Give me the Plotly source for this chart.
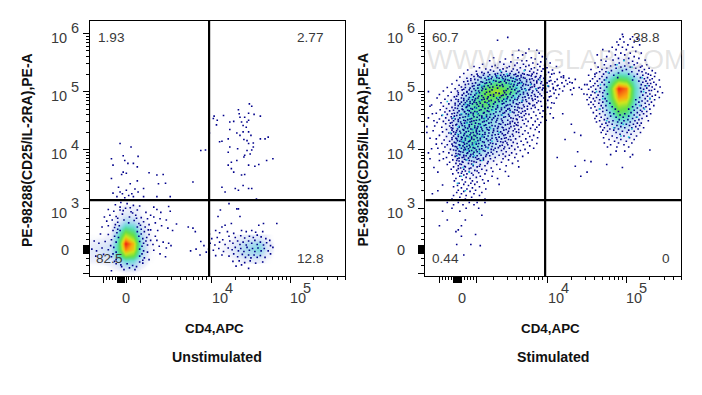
import plotly.graph_objects as go

# All positions are in display decades of the biexponential axes (10^4 -> 4, 10^5 -> 5 ...)
X_RANGE = [2.44, 5.70]
Y_RANGE = [1.84, 6.21]
GATE_X = 3.966
GATE_Y = 3.14

# ---------- density tables (estimated from the colours, 0 = empty, 10 = red) ----------
un_blob_x = [2.5, 2.6, 2.7, 2.8, 2.9, 3.0, 3.1, 3.2, 3.3]
un_blob_y = [1.9, 2.0, 2.1, 2.2, 2.3, 2.4, 2.5, 2.6, 2.7, 2.8, 2.9, 3.0]
un_blob_z = [
    [0, 0, 0, 0, .3, .3, 0, 0, 0],
    [0, 0, .3, .8, 1.8, 1.8, .5, 0, 0],
    [.5, .8, .9, 1.8, 3.4, 3.2, 1.2, .2, 0],
    [.7, 1.1, 1.4, 3.2, 6.2, 5.6, 2, .3, 0],
    [.8, 1.2, 1.5, 4, 8.6, 7.4, 2.4, .4, 0],
    [.6, .9, 1.2, 3.8, 9.9, 7.8, 2.4, .4, 0],
    [.2, .3, .6, 3.4, 7.6, 6, 2, .4, 0],
    [0, .1, .3, 2.4, 5.5, 4.5, 1.6, .3, 0],
    [0, 0, .2, 1.4, 3.4, 3, 1.1, .2, 0],
    [0, 0, .1, .7, 2, 1.7, .6, .1, 0],
    [0, 0, 0, .3, 1, .9, .3, 0, 0],
    [0, 0, 0, .2, .5, .5, .2, 0, 0],
]
un_low_x = [4.0, 4.1, 4.2, 4.3, 4.4, 4.5, 4.6, 4.7, 4.8]
un_low_y = [2.1, 2.2, 2.3, 2.4, 2.5]
un_low_z = [
    [0, 0, 0, .2, .5, .7, .6, .2, 0],
    [0, .1, .3, .7, 1.5, 1.9, 2, .7, 0],
    [0, .2, .5, 1.1, 1.9, 2.4, 3, 1.2, .1],
    [0, .2, .4, .9, 1.7, 2.1, 2.6, 1, .1],
    [0, 0, .1, .3, .7, .9, .9, .4, 0],
]
st_cloud_x = [2.6, 2.75, 2.9, 3.05, 3.2, 3.35, 3.5, 3.65, 3.8, 3.95]
st_cloud_y = [3.6, 3.8, 4.0, 4.2, 4.4, 4.6, 4.8, 5.0, 5.2, 5.4]
st_cloud_z = [
    [0, 0, .2, .4, .1, 0, 0, 0, 0, 0],
    [0, 0, 1, 1.4, .6, .2, 0, 0, 0, 0],
    [0, .4, 2.6, 3.4, 2.1, 1.2, .5, .1, 0, 0],
    [0, .6, 3, 3.8, 2.6, 1.7, .9, .2, 0, 0],
    [0, .7, 2.6, 3.6, 2.9, 2, 1.2, .4, 0, 0],
    [0, .6, 2.4, 3.8, 3.4, 2.4, 1.5, .6, 0, 0],
    [0, .5, 2, 4, 5, 3.6, 2.4, 1.3, .4, 0],
    [0, .1, .8, 2.6, 5.4, 6.6, 4.8, 3, 1.2, .2],
    [0, 0, .3, 1.3, 3, 4, 3.6, 2.4, 1.2, .4],
    [0, 0, 0, .1, .3, .4, .5, .4, .2, 0],
]
st_right_x = [4.4, 4.5, 4.6, 4.7, 4.8, 4.9, 5.0, 5.1, 5.2, 5.3, 5.4, 5.5]
st_right_y = [4.0, 4.15, 4.3, 4.45, 4.6, 4.75, 4.9, 5.05, 5.2, 5.35, 5.5, 5.65]
st_right_z = [
    [0, 0, 0, 0, 0, 0, 0, 0, 0, 0, 0, 0],
    [0, 0, 0, 0, .1, .3, .3, .1, 0, 0, 0, 0],
    [0, 0, 0, .1, .6, 1.1, 1, .5, .1, 0, 0, 0],
    [0, 0, 0, .3, 1.4, 2.5, 2.3, 1.1, .2, 0, 0, 0],
    [0, 0, .1, .7, 2.5, 4.4, 4, 1.9, .6, .1, 0, 0],
    [0, 0, .2, 1.3, 3.7, 6.2, 5.8, 2.9, 1, .2, 0, 0],
    [0, 0, .4, 1.8, 4.7, 8.4, 8, 3.7, 1.4, .3, 0, 0],
    [0, 0, .4, 1.8, 5.1, 9.8, 8.8, 3.9, 1.6, .4, 0, 0],
    [0, 0, .2, 1.3, 3.7, 5.8, 5.4, 3.1, 1.1, .2, 0, 0],
    [0, 0, .1, .5, 1.5, 2.6, 2.4, 1.3, .4, 0, 0, 0],
    [0, 0, 0, .1, .4, .7, .7, .4, .1, 0, 0, 0],
    [0, 0, 0, 0, 0, .1, .1, 0, 0, 0, 0, 0],
]

# ---------- individual events ----------
un_upper_right = [(4.48,4.79),(4.51,4.75),(4.34,4.69),(4.35,4.62),(4.03,4.58),(4.15,4.59),(4.07,4.51),(4.06,4.43),(4.02,4.54),(4.23,4.48),(4.28,4.49),(4.36,4.56),(4.42,4.56),(4.47,4.63),(4.54,4.61),(4.62,4.58),(4.38,4.48),(4.45,4.48),(4.40,4.42),(4.47,4.51),(4.23,4.35),(4.32,4.29),(4.40,4.31),(4.47,4.31),(3.97,4.29),(4.13,4.15),(4.10,4.14),(4.21,4.19),(4.36,4.25),(4.45,4.16),(4.47,4.11),(4.53,4.12),(4.62,4.19),(4.68,4.19),(4.72,4.22),(4.53,4.05),(4.45,3.99),(4.42,3.91),(4.51,4.0),(4.23,4.05),(4.21,3.96),(4.41,3.88),(4.32,3.82),(4.47,3.74),(4.55,3.72),(4.6,3.75),(4.7,3.82),(4.78,3.85),(4.21,3.74),(4.25,3.79),(4.25,3.68),(4.38,3.57),(4.42,3.58),(4.13,3.36),(4.30,3.34),(4.34,3.31),(4.40,3.39),(4.47,3.34),(4.51,3.34),(4.17,3.28),(4.28,3.62),(4.44,4.39),(4.5,4.25),(4.41,4.18),(4.49,3.93),(4.33,4.02)]
un_lower_right = [(4.57,3.16),(4.22,3.08),(4.11,2.97),(4.32,2.99),(4.34,2.99),(4.08,2.86),(4.36,2.86),(4.17,2.71),(4.25,2.74),(4.13,2.68),(3.97,2.56),(4.83,2.74),(4.66,2.74),(4.6,2.71),(4.51,2.62),(4.38,2.62),(4.05,2.62),(4.1,2.58),(4.2,2.6),(4.28,2.57),(4.44,2.6),(4.56,2.59),(4.65,2.6),(4.0,2.48),(4.07,2.5),(4.14,2.46),(4.22,2.52),(4.3,2.5),(4.37,2.53),(4.42,2.49),(4.48,2.52),(4.53,2.5),(4.58,2.54),(4.63,2.51),(4.69,2.48),(4.74,2.45),(3.98,2.4),(4.04,2.37),(4.1,2.42),(4.17,2.38),(4.23,2.44),(4.27,2.4),(4.33,2.44),(4.36,2.38),(4.4,2.42),(4.44,2.37),(4.47,2.44),(4.51,2.4),(4.55,2.45),(4.58,2.38),(4.62,2.42),(4.66,2.37),(4.7,2.41),(4.75,2.36),(4.78,2.33),(3.96,2.3),(4.02,2.28),(4.09,2.31),(4.15,2.26),(4.21,2.32),(4.26,2.29),(4.3,2.33),(4.34,2.27),(4.37,2.31),(4.41,2.26),(4.45,2.33),(4.48,2.28),(4.52,2.31),(4.55,2.26),(4.59,2.32),(4.63,2.27),(4.67,2.31),(4.72,2.27),(4.75,2.22),(4.05,2.19),(4.13,2.2),(4.22,2.18),(4.28,2.22),(4.33,2.17),(4.39,2.21),(4.43,2.16),(4.47,2.2),(4.5,2.15),(4.54,2.2),(4.58,2.16),(4.62,2.19),(4.68,2.16),(4.27,2.09),(4.35,2.1),(4.42,2.07),(4.49,2.1),(4.56,2.06),(4.65,2.08),(4.31,2.01),(4.47,1.97),(4.38,2.03)]
un_upper_left = [(2.83,4.11),(2.97,4.05),(2.72,3.85),(2.87,3.9),(3.06,3.89),(2.89,3.82),(2.74,3.74),(2.93,3.77),(3.0,3.77),(3.05,3.71),(2.87,3.62),(2.91,3.6),(2.85,3.58),(2.72,3.51),(3.2,3.61),(3.3,3.57),(3.38,3.58),(3.32,3.42),(3.41,3.43),(3.76,3.45),(3.86,3.99),(2.96,3.42),(3.05,3.47),(3.13,3.34),(2.91,3.31),(2.83,3.28),(2.74,3.26),(2.98,3.25),(3.06,3.28),(3.13,3.2),(3.3,3.2),(3.47,3.2),(2.89,3.18),(3.0,3.2),(2.79,3.2),(2.86,3.25),(2.94,3.22),(2.81,3.36),(3.02,3.33),(3.92,4.0)]
un_blob_dots = [(2.77,3.06),(2.84,3.1),(2.92,3.08),(3.0,3.05),(3.08,3.04),(3.26,3.02),(3.45,3.03),(3.3,2.98),(2.68,2.98),(2.75,2.95),(2.83,2.97),(2.9,3.0),(2.97,2.94),(3.05,2.97),(3.16,2.93),(3.22,2.88),(3.35,2.93),(3.47,2.95),(2.63,2.85),(2.7,2.88),(2.78,2.86),(2.86,2.9),(2.95,2.85),(3.03,2.88),(3.1,2.84),(3.18,2.82),(3.26,2.85),(3.34,2.82),(3.42,2.8),(3.55,2.73),(3.7,2.68),(3.76,2.66),(3.79,2.6),(2.66,2.78),(2.73,2.8),(2.8,2.76),(2.88,2.8),(2.94,2.75),(3.01,2.79),(3.07,2.74),(3.13,2.77),(3.2,2.72),(3.28,2.75),(3.36,2.7),(3.44,2.66),(3.5,2.62),(2.6,2.68),(2.68,2.7),(2.76,2.67),(2.82,2.7),(3.05,2.68),(3.1,2.64),(3.15,2.68),(3.22,2.63),(3.31,2.62),(2.74,2.62),(2.79,2.58),(2.83,2.62),(3.05,2.6),(3.1,2.56),(3.14,2.6),(3.2,2.55),(3.28,2.52),(2.58,2.56),(2.68,2.55),(2.76,2.52),(2.81,2.5),(3.07,2.52),(3.12,2.48),(3.17,2.5),(3.22,2.45),(3.3,2.45),(3.38,2.42),(3.45,2.4),(2.5,2.44),(2.56,2.4),(2.64,2.43),(2.72,2.46),(2.78,2.42),(3.08,2.43),(3.13,2.4),(3.18,2.37),(3.25,2.38),(3.33,2.35),(3.42,2.32),(3.48,2.36),(3.86,2.43),(3.9,2.36),(3.8,2.3),(3.73,2.27),(3.85,2.2),(3.93,2.25),(2.47,2.3),(2.53,2.27),(2.6,2.32),(2.68,2.29),(2.75,2.33),(2.78,2.25),(3.08,2.3),(3.13,2.27),(3.18,2.25),(3.26,2.28),(3.34,2.22),(3.41,2.17),(3.2,2.12),(2.52,2.18),(2.62,2.21),(2.72,2.17),(2.78,2.12),(3.08,2.18),(3.14,2.15),(3.08,2.08),(3.04,2.0),(2.78,2.05),(2.84,2.03),(2.95,1.98),(3.02,1.95),(2.88,1.95),(2.92,2.05),(3.12,2.06),(2.72,1.93),(2.71,2.36),(2.74,2.22),(2.77,2.72),(3.11,2.35),(3.16,2.44),(3.11,2.22),(2.8,2.64),(3.09,2.71),(2.8,2.83),(2.99,2.92),(2.87,2.96),(3.04,2.83),(3.12,2.11),(2.76,2.09),(2.85,2.0),(2.99,2.02),(3.19,2.63),(2.83,3.02),(2.96,3.01)]

# Stimulated: (y, [x, x, ...]) one short row of events at a time
st_cloud_rows = [
    (5.93,[3.49]),(5.88,[3.36]),(5.73,[3.76]),(5.71,[3.63,3.86]),(5.66,[3.72,3.89]),(5.63,[3.55,3.68]),(5.6,[3.93]),
    (5.58,[3.31,3.62,3.79]),(5.56,[3.46,3.84,3.98]),(5.53,[3.26,3.67,3.73]),(5.51,[3.39,3.53,3.91]),(5.49,[3.61,3.81,4.03]),
    (5.47,[3.17,3.44,3.69,3.87]),(5.45,[3.33,3.58,3.76,3.96]),(5.43,[3.06,3.29,3.51,3.72,3.9,4.11]),(5.41,[3.13,3.36,3.48,3.65,3.83,3.99]),
    (5.39,[3.21,3.43,3.56,3.79,3.94]),(5.37,[2.98,3.27,3.39,3.61,3.71,3.87,4.06]),(5.35,[3.09,3.31,3.47,3.54,3.77,3.92]),
    (5.33,[3.16,3.24,3.41,3.63,3.82,4.01,4.15]),(5.31,[2.93,3.19,3.36,3.52,3.68,3.86,4.08]),(5.29,[3.03,3.26,3.44,3.57,3.74,3.97]),
    (5.27,[3.11,3.34,3.49,3.62,3.79,3.91,4.2]),(5.25,[2.88,3.13,3.29,3.42,3.66,3.84,4.03,4.17]),(5.23,[2.97,3.2,3.38,3.56,3.71,3.95,4.27]),
    (5.21,[3.07,3.25,3.46,3.59,3.77,3.88,4.12,4.35]),(5.19,[2.84,3.02,3.31,3.51,3.65,3.82,4.04,4.23]),(5.17,[2.93,3.15,3.4,3.58,3.73,3.92,4.09]),
    (5.15,[3.08,3.22,3.47,3.64,3.86,3.99,4.18,4.31]),(5.13,[2.78,2.99,3.28,3.53,3.69,3.79,4.06,4.25]),(5.11,[2.87,3.11,3.35,3.61,3.75,3.94,4.13]),
    (5.09,[3.04,3.19,3.43,3.56,3.83,4.01,4.21]),(5.07,[2.72,2.95,3.26,3.66,3.78,3.9,4.07,4.4]),(5.05,[2.82,3.06,3.17,3.49,3.71,3.85,3.97,4.15]),
    (5.03,[2.91,3.0,3.29,3.58,3.76,3.93,4.1,4.29]),(5.01,[2.67,2.85,3.12,3.44,3.64,3.81,4.03,4.19]),(4.99,[2.77,2.97,3.22,3.53,3.69,3.88,3.99]),
    (4.97,[2.93,3.09,3.38,3.6,3.74,3.96,4.08]),(4.95,[2.62,2.86,3.02,3.31,3.47,3.65,3.83,4.14,4.31]),(4.93,[2.73,2.96,3.16,3.41,3.56,3.79,3.92]),
    (4.91,[2.81,3.05,3.24,3.49,3.71,3.87,4.02]),(4.89,[2.59,2.9,3.11,3.35,3.62,3.76,3.95,4.11]),(4.87,[2.69,2.83,2.99,3.19,3.44,3.58,3.84]),
    (4.85,[2.77,2.93,3.07,3.28,3.52,3.68,3.81,4.0]),(4.83,[2.86,3.01,3.13,3.38,3.47,3.73,3.91]),(4.81,[2.64,2.95,3.09,3.23,3.56,3.64,3.86,4.05]),
    (4.79,[2.74,2.88,3.04,3.31,3.42,3.6,3.77,3.97]),(4.77,[2.52,2.82,2.98,3.17,3.49,3.69,3.83]),(4.75,[2.67,2.91,3.12,3.26,3.54,3.74,3.92]),
    (4.73,[2.78,2.96,3.07,3.36,3.45,3.62,3.84,4.0]),(4.71,[2.71,2.85,3.02,3.2,3.51,3.67,3.79]),(4.69,[2.63,2.92,3.15,3.29,3.41,3.58,3.88]),
    (4.67,[2.75,2.87,3.0,3.23,3.47,3.71,3.94]),(4.65,[2.69,2.94,3.1,3.34,3.55,3.63,3.82]),(4.63,[2.58,2.81,3.05,3.18,3.43,3.66,3.9]),
    (4.61,[2.72,2.9,2.99,3.27,3.5,3.76,3.97]),(4.59,[2.65,2.84,3.13,3.37,3.59,3.7,3.85]),(4.57,[2.77,2.95,3.06,3.22,3.46,3.64,3.93]),
    (4.55,[2.48,2.7,2.88,3.16,3.31,3.53,3.79]),(4.53,[2.62,2.82,3.01,3.24,3.41,3.6,3.72,3.87]),(4.51,[2.74,2.93,3.09,3.35,3.49,3.68,3.98]),
    (4.49,[2.67,2.86,3.03,3.19,3.55,3.75,3.84]),(4.47,[2.59,2.78,2.97,3.28,3.43,3.62,3.91]),(4.45,[2.7,2.9,3.12,3.38,3.52,3.7]),
    (4.43,[2.83,3.0,3.21,3.46,3.6,3.81,3.89]),(4.41,[2.56,2.75,2.94,3.07,3.33,3.57,3.73]),(4.39,[2.65,2.87,3.15,3.26,3.42,3.66,3.86]),
    (4.37,[2.79,2.98,3.1,3.36,3.51,3.78]),(4.35,[2.71,2.92,3.04,3.23,3.47,3.63,3.84]),(4.33,[2.54,2.84,3.17,3.31,3.56,3.71]),
    (4.31,[2.66,2.8,2.96,3.09,3.4,3.6,3.89]),(4.29,[2.74,2.89,3.02,3.25,3.49,3.75]),(4.27,[2.82,3.13,3.2,3.37,3.55,3.68]),
    (4.25,[2.62,2.93,3.06,3.29,3.44,3.82]),(4.23,[2.71,2.86,2.99,3.16,3.52,3.64,3.77]),(4.21,[2.78,2.91,3.1,3.34,3.47,3.87]),
    (4.19,[2.58,2.84,3.03,3.22,3.41,3.59,3.72]),(4.17,[2.68,2.95,3.14,3.27,3.53,3.8]),(4.15,[2.75,2.88,3.0,3.36,3.46,3.66]),
    (4.13,[2.81,2.93,3.08,3.19,3.43,3.56,3.74]),(4.11,[2.65,2.97,3.12,3.3,3.61,3.86]),(4.09,[2.72,2.87,3.04,3.25,3.49,3.69]),
    (4.07,[2.79,2.92,3.16,3.39,3.54,3.77]),(4.05,[2.69,2.84,3.01,3.21,3.45,3.62]),(4.03,[2.6,2.9,3.07,3.33,3.51,3.82]),
    (4.01,[2.76,2.95,3.13,3.28,3.58,3.71]),(3.99,[2.83,3.03,3.18,3.41,3.65]),(3.97,[2.67,2.89,3.1,3.35,3.47]),
    (3.95,[2.74,2.98,3.24,3.54,3.75]),(3.93,[2.62,2.86,3.05,3.3,3.43,3.6]),(3.91,[2.78,2.93,3.15,3.38,3.51]),
    (3.89,[2.82,3.01,3.21,3.46,3.68]),(3.87,[2.71,2.91,3.08,3.33,3.58]),(3.85,[2.67,2.85,3.12,3.27,3.43]),
    (3.83,[2.79,2.96,3.18,3.5]),(3.81,[2.87,3.03,3.31,3.62]),(3.79,[2.75,2.92,3.09,3.41]),(3.77,[2.83,2.99,3.23,3.55]),
    (3.75,[2.72,2.9,3.14,3.35]),(3.73,[2.86,3.05,3.2,3.47]),(3.71,[2.8,2.95,3.1,3.63]),(3.69,[2.89,3.02,3.28]),
    (3.67,[2.77,2.93,3.16,3.39]),(3.65,[2.84,3.07,3.22]),(3.63,[2.91,3.0,3.3,3.46]),(3.61,[2.86,3.12]),
    (3.59,[2.79,2.97,3.2]),(3.57,[2.93,3.05]),(3.55,[2.88,3.14,3.29,3.5]),(3.53,[2.96,3.09]),(3.51,[2.83,3.01,3.36]),
    (3.49,[2.91,3.17]),(3.47,[2.81,3.04,3.24]),(3.45,[2.95,3.1]),(3.43,[2.87,3.02,3.19]),(3.41,[2.93,3.07,3.38]),
    (3.39,[2.85,2.99]),(3.37,[2.8,3.13]),(3.35,[2.9,3.04]),(3.33,[2.97,3.21]),(3.31,[2.86,3.08]),(3.29,[2.93,3.01]),
    (3.27,[2.84,3.16]),(3.25,[2.9,3.06]),(3.22,[2.8,2.96,3.13]),(3.19,[2.88,3.03]),(3.16,[2.78,2.95,3.2]),
    (3.1,[2.72,2.86,3.0,3.1,3.2]),(3.06,[2.8,2.92,3.06]),(3.0,[2.78,2.96,3.12]),(2.95,[2.66,2.88]),
    (2.88,[3.16]),(2.8,[2.72,2.95]),(2.7,[2.62,2.9]),(2.55,[3.08]),(2.52,[2.9]),(2.38,[2.84,3.02]),(2.2,[2.93]),
    (2.6,[2.83]),(2.63,[2.86]),(2.36,[3.14]),
]
st_cloud_extra_rows = [
    (5.3,[3.1,3.33,3.59,3.7,3.8]),(5.28,[3.18,3.4,3.51,3.66,3.76]),(5.26,[3.06,3.24,3.46,3.6,3.85]),(5.24,[3.15,3.35,3.53,3.69,3.9]),
    (5.22,[3.02,3.28,3.43,3.64,3.8]),(5.2,[3.11,3.22,3.49,3.61,3.73,3.96]),(5.18,[2.98,3.34,3.45,3.55,3.86]),(5.16,[3.17,3.26,3.38,3.67,3.78]),
    (5.14,[3.04,3.2,3.51,3.62,3.91]),(5.12,[2.95,3.13,3.42,3.57,3.72,3.83]),(5.1,[3.06,3.24,3.39,3.68,4.0]),(5.08,[2.9,3.16,3.3,3.52,3.8]),
    (5.06,[3.01,3.11,3.36,3.6,3.88,3.94]),(5.04,[2.93,3.21,3.54,3.67,3.77]),(5.02,[3.08,3.16,3.47,3.72,3.86]),(5.0,[2.97,3.03,3.26,3.62,3.96]),
    (4.98,[2.86,3.13,3.34,3.45,3.8]),(4.96,[2.99,3.2,3.52,3.69,3.9]),(4.94,[2.91,3.07,3.27,3.43,3.75]),(4.92,[2.84,3.12,3.31,3.63,3.84]),
    (4.9,[3.0,3.18,3.39,3.54,3.68]),(4.88,[2.93,3.08,3.23,3.48,3.8]),(4.86,[2.86,3.04,3.16,3.37,3.61,3.72]),(4.84,[2.97,3.25,3.42,3.56,3.88]),
    (4.82,[2.9,3.06,3.2,3.33,3.67]),(4.8,[2.82,3.01,3.14,3.44,3.76]),(4.78,[2.93,3.1,3.25,3.52,3.62]),(4.76,[2.86,3.0,3.36,3.47,3.81]),
    (4.74,[2.97,3.17,3.3,3.58,3.7]),(4.72,[2.82,3.09,3.24,3.41,3.64]),(4.7,[2.91,3.04,3.34,3.49,3.74]),(4.68,[2.8,2.98,3.13,3.52,3.61]),
    (4.66,[2.94,3.07,3.25,3.39,3.68]),(4.64,[2.85,3.02,3.19,3.45,3.57]),(4.62,[2.78,2.96,3.11,3.31,3.72]),(4.6,[2.88,3.05,3.22,3.41,3.62]),
    (4.58,[2.81,2.99,3.16,3.33,3.51]),(4.56,[2.92,3.1,3.26,3.44,3.67]),(4.54,[2.78,3.03,3.19,3.36,3.56]),(4.52,[2.86,2.98,3.13,3.29,3.61]),
    (4.5,[2.8,2.95,3.06,3.22,3.42]),(4.48,[2.89,3.01,3.17,3.34,3.52]),(4.46,[2.76,2.94,3.08,3.25,3.58]),(4.44,[2.84,3.03,3.14,3.4,3.49]),
    (4.42,[2.79,2.91,3.19,3.29,3.62]),(4.4,[2.87,3.0,3.11,3.37,3.53]),(4.38,[2.77,2.95,3.07,3.22,3.43]),(4.36,[2.85,3.02,3.16,3.31,3.58]),
    (4.34,[2.78,2.93,3.09,3.25,3.44]),(4.32,[2.88,2.99,3.13,3.36,3.5]),(4.3,[2.83,3.05,3.2,3.3,3.63]),(4.28,[2.77,2.94,3.1,3.42]),
    (4.26,[2.86,3.01,3.17,3.33,3.46]),(4.24,[2.8,2.97,3.08,3.24,3.56]),(4.22,[2.9,3.03,3.19,3.38]),(4.2,[2.83,2.95,3.14,3.29,3.45]),
    (4.18,[2.78,2.9,3.06,3.35,3.5]),(4.16,[2.85,3.01,3.11,3.24]),(4.14,[2.91,2.99,3.17,3.4]),(4.12,[2.83,3.04,3.27,3.48]),
    (4.1,[2.78,2.94,3.09,3.34]),(4.08,[2.88,3.0,3.2,3.42]),(4.06,[2.82,2.97,3.11,3.29]),(4.04,[2.94,3.05,3.24,3.37]),
    (4.02,[2.85,2.99,3.16,3.44]),(4.0,[2.8,2.93,3.09,3.31]),(3.98,[2.87,3.0,3.2]),(3.96,[2.92,3.06,3.28]),
    (3.94,[2.83,2.97,3.13]),(3.92,[2.88,3.02,3.22]),(3.9,[2.84,2.96,3.1,3.26]),(3.88,[2.93,3.05]),
    (3.86,[2.87,2.99,3.18]),(3.84,[2.94,3.1]),(3.82,[2.84,3.0,3.14]),(3.8,[2.91,3.06,3.24]),
    (3.76,[2.88,3.03]),(3.72,[2.94,3.13]),(3.68,[2.86,3.0]),(3.64,[2.95,3.1]),(3.6,[2.9,3.03]),
]
st_cloud_light = [(3.3,5.17),(3.42,5.2),(3.52,5.14),(3.6,5.07),(3.72,5.03),(3.16,5.1),(3.1,4.98),(3.25,5.23),(3.36,5.27),(3.48,5.3),(3.58,5.22),(3.66,5.14),(3.78,5.12),(3.02,4.9),(2.96,4.78),(3.08,4.72),(3.14,4.85),(3.24,4.8),(3.36,4.9),(3.46,4.87),(3.58,4.9),(3.67,4.84),(2.9,4.62),(3.0,4.58),(3.1,4.63),(3.2,4.55),(3.3,4.68),(3.42,4.6),(3.52,4.65),(2.86,4.4),(2.97,4.46),(3.05,4.35),(3.14,4.42),(3.27,4.37),(3.38,4.3),(2.85,4.27),(2.92,4.15),(3.0,4.22),(3.08,4.13),(3.16,4.24),(3.29,4.15),(2.88,4.05),(2.97,4.0),(3.05,4.08),(3.13,3.97),(3.24,4.03),(2.85,3.9),(2.97,3.83),(3.06,3.9),(3.16,3.82),(2.92,3.7),(3.0,3.62),(3.05,3.75),(2.9,3.55),(2.85,3.43),(2.95,3.3),(3.4,5.35),(3.7,5.36),(3.9,5.2),(4.0,5.1),(3.85,5.05),(2.8,4.55),(2.76,4.3),(2.72,4.83),(2.66,4.6)]
st_left_sparse = [(2.48,5.0),(2.5,4.75),(2.53,4.62),(2.46,4.3),(2.5,4.2),(2.52,4.02),(2.48,3.95),(2.5,3.85),(2.55,3.7),(2.6,3.62),(2.66,3.4),(2.6,3.3),(2.53,3.25),(2.55,4.5),(2.58,4.1),(2.62,3.82),(2.46,4.4)]
st_gap_dots = [(4.05,5.3),(4.02,5.18),(4.07,5.05),(4.12,5.1),(4.2,5.24),(4.28,5.16),(4.33,5.06),(4.04,4.92),(4.08,4.8),(4.04,4.72),(4.03,4.62),(4.07,4.55),(4.19,4.62),(4.3,4.44),(4.42,4.25),(4.34,4.3),(4.22,4.18),(4.38,3.97),(4.12,3.87),(4.35,3.72),(4.47,3.82),(4.55,3.8),(4.5,3.62),(4.42,3.55),(4.43,5.04),(4.47,5.12),(4.5,4.95),(4.6,5.3),(4.75,3.75),(4.95,3.7),(5.05,3.88),(5.3,4.0)]
st_right_rows = [
    (5.98,[4.95]),(5.94,[4.96,5.08]),(5.9,[4.92,5.05,5.14]),(5.85,[4.88,4.97,5.1]),(5.8,[4.9,5.02,5.17]),(5.76,[4.82,4.95,5.08]),
    (5.72,[4.7,4.87,5.0]),(5.69,[4.78,5.12]),(5.66,[4.93,5.05,5.19]),(5.63,[4.63,4.86,4.98]),(5.6,[4.75,5.1]),(5.57,[4.9,5.03,5.16]),
    (5.54,[4.68,4.83,4.97,5.24]),(5.52,[4.74,5.08]),(5.49,[4.6,4.91,5.03,5.14]),(5.46,[4.72,4.86,5.1,5.26]),(5.44,[4.8,4.98,5.2]),
    (5.42,[4.64,4.93,5.05,5.18]),(5.4,[4.75,4.87,5.12,5.29]),(5.38,[4.55,4.69,5.0,5.23]),(5.36,[4.81,4.95,5.16,5.33]),(5.34,[4.66,4.74,5.07,5.2]),
    (5.32,[4.62,4.78,4.9,5.25,5.37]),(5.3,[4.71,5.03,5.14,5.28]),(5.28,[4.52,4.84,5.21,5.31]),(5.26,[4.6,4.69,5.1,5.36]),(5.24,[4.75,4.89,5.18,5.27]),
    (5.22,[4.57,4.66,5.23,5.33]),(5.2,[4.72,5.08,5.3,5.42]),(5.18,[4.54,4.63,5.16,5.25]),(5.16,[4.69,4.78,5.21,5.35]),(5.14,[4.6,5.27,5.31]),
    (5.12,[4.5,4.72,5.19,5.38]),(5.1,[4.64,4.58,5.24,5.29]),(5.08,[4.55,4.75,5.33,5.43]),(5.06,[4.67,5.18,5.26]),(5.04,[4.52,4.61,5.22,5.36]),
    (5.02,[4.72,5.29,5.32]),(5.0,[4.57,4.66,5.19,5.4]),(4.98,[4.6,4.7,5.25,5.46]),(4.96,[4.46,4.76,5.3]),(4.94,[4.64,4.55,5.21,5.37]),
    (4.92,[4.7,5.27,5.33]),(4.9,[4.53,4.62,5.17,5.42]),(4.88,[4.58,4.73,5.24,5.3]),(4.86,[4.5,4.66,5.12,5.36]),(4.84,[4.6,4.75,5.2,5.27]),
    (4.82,[4.55,4.7,5.16,5.32]),(4.8,[4.65,4.79,5.24]),(4.78,[4.52,4.58,5.12,5.29]),(4.76,[4.68,4.74,5.19,5.35]),(4.74,[4.6,4.82,5.08,5.25]),
    (4.72,[4.55,4.7,5.14,5.22]),(4.7,[4.66,4.86,5.03,5.3]),(4.68,[4.62,4.75,5.1,5.18]),(4.66,[4.7,4.9,5.2,5.26]),(4.64,[4.58,4.79,5.06,5.14]),
    (4.62,[4.66,4.84,4.98,5.22,5.31]),(4.6,[4.73,4.92,5.1,5.17]),(4.58,[4.62,4.8,5.03,5.26]),(4.56,[4.68,4.87,4.96,5.13]),(4.54,[4.6,4.76,5.08,5.2]),
    (4.52,[4.72,4.91,5.02,5.16]),(4.5,[4.66,4.83,4.97,5.11,5.28]),(4.48,[4.62,4.78,4.89,5.05]),(4.46,[4.74,4.94,5.14,5.19]),(4.44,[4.69,4.82,5.0,5.09]),
    (4.42,[4.76,4.88,5.04,5.17]),(4.4,[4.67,4.93,5.12]),(4.38,[4.72,4.85,4.98,5.07,5.22]),(4.36,[4.79,4.9,5.15]),(4.34,[4.7,4.84,5.03]),
    (4.32,[4.76,4.95,5.1]),(4.3,[4.68,4.87,5.01,5.18]),(4.27,[4.74,4.92,5.06]),(4.24,[4.82,4.97,5.13]),(4.21,[4.71,4.88,5.04]),(4.18,[4.78,4.93,5.1]),
    (4.15,[4.85,5.0]),(4.12,[4.72,4.9,5.07]),(4.09,[4.8,4.97]),(4.05,[4.76,4.88,5.03]),(3.98,[4.87,4.98]),(3.92,[4.8,5.08]),
]
st_right_light = [(4.62,5.0),(4.67,5.12),(4.7,4.88),(4.74,5.2),(4.66,4.7),(5.26,5.1),(5.22,5.0),(5.3,4.88),(5.2,5.24),(5.17,4.76),(5.23,4.7),(4.77,5.33),(4.88,5.46),(5.07,5.42),(4.97,5.53),(4.75,4.5),(4.84,4.38),(4.96,4.44),(5.07,4.36),(5.14,4.56),(4.93,4.24),(5.03,4.22)]

panels = [
    dict(name="Unstimulated", xa="x", ya="y", left=89.5, right=345.0, xt=214, yt=27,
         labels=[("1.93", 96, 37, "left"), ("2.77", 325, 37, "right"), ("82.5", 94, 258, "left"), ("12.8", 325, 258, "right")]),
    dict(name="Stimulated", xa="x2", ya="y2", left=425.3, right=681.3, xt=550, yt=362.5,
         labels=[("60.7", 430, 37, "left"), ("38.8", 661, 37, "right"), ("0.44", 430, 258, "left"), ("0", 672, 258, "right")]),
]
W, H = 702, 395
TOP, BOTTOM = 21.0, 276.0
SCALE = [[0, "rgba(255,255,255,0)"], [.04, "rgba(236,238,250,.85)"], [.12, "#d6e4f8"], [.22, "#a8daf0"],
         [.32, "#72dcd8"], [.42, "#55dc9c"], [.55, "#66e046"], [.7, "#cfe61e"], [.82, "#fda80f"], [1, "#ee1414"]]
DOT = "#00008b"
LIGHT = "#1fc4dc"

fig = go.Figure()

def heat(x, y, z, xa, ya):
    fig.add_trace(go.Heatmap(x=x, y=y, z=z, xaxis=xa, yaxis=ya, zmin=0, zmax=10, zsmooth="best",
                             colorscale=SCALE, showscale=False, hoverinfo="skip"))

def dots(pts, xa, ya, name, color=DOT):
    fig.add_trace(go.Scatter(x=[p[0] for p in pts], y=[p[1] for p in pts], xaxis=xa, yaxis=ya, mode="markers", name=name,
                             marker=dict(size=1.6, symbol="square", color=color, line=dict(width=0)),
                             hoverinfo="skip", showlegend=False))

def flatten(rows):
    return [(x, y) for y, xs in rows for x in xs]

heat(un_blob_x, un_blob_y, un_blob_z, "x", "y")
heat(un_low_x, un_low_y, un_low_z, "x", "y")
dots(un_upper_right + un_lower_right + un_upper_left + un_blob_dots, "x", "y", "Unstimulated")
heat(st_cloud_x, st_cloud_y, st_cloud_z, "x2", "y2")
heat(st_right_x, st_right_y, st_right_z, "x2", "y2")
dots(flatten(st_cloud_rows) + flatten(st_cloud_extra_rows) + flatten(st_right_rows) + st_left_sparse + st_gap_dots, "x2", "y2", "Stimulated")
dots(st_cloud_light + st_right_light, "x2", "y2", "Stimulated light", LIGHT)

x_block = [2.80 + i * 0.0128 for i in range(8)]
y_block = [2.22 + i * 0.017 for i in range(9)]
x_major = [2.615, 2.906, 3.097, 4.0, 5.0] + x_block
x_minor = ([2.655, 2.695, 2.735, 2.775] + [2.94, 2.98, 3.02, 3.06]
           + [3.31, 3.49, 3.6, 3.68, 3.77, 3.83, 3.88, 3.93]
           + [4.3, 4.48, 4.6, 4.7, 4.78, 4.85, 4.9, 4.95] + [5.3, 5.48, 5.6, 5.7])
y_major = [3.0, 4.0, 5.0, 6.0, 1.88] + y_block
y_minor = ([2.83, 2.69, 2.57, 2.47] + [2.14, 2.02]
           + [d + s for d in (3, 4, 5) for s in (.3, .48, .6, .7, .78, .85, .9, .95)])
x_decades = [(4.0, "4"), (5.0, "5")]
y_decades = [(3.0, "3"), (4.0, "4"), (5.0, "5"), (6.0, "6")]
ZERO_X = 2.906
ZERO_Y = 2.28

axis_common = dict(showgrid=False, zeroline=False, showline=True, mirror=True, linecolor="black", linewidth=1,
                   ticks="outside", ticklen=6, tickwidth=1, tickcolor="black", showticklabels=False, tickmode="array")
shapes, annotations = [], []
TEXT = "#3a3a3a"
FONT = "Liberation Sans"

def note(text, size, color=TEXT, **kw):
    kw.setdefault("xanchor", "center")
    kw.setdefault("yanchor", "middle")
    annotations.append(dict(text=text, showarrow=False, font=dict(family=FONT, size=size, color=color), **kw))

for i, p in enumerate(panels):
    sfx = "" if i == 0 else "2"
    fig.layout["xaxis" + sfx] = dict(axis_common, domain=[p["left"] / W, p["right"] / W], range=X_RANGE, anchor="y" + sfx,
                                     tickvals=x_major, minor=dict(tickvals=x_minor, ticklen=3, tickwidth=1, tickcolor="black", ticks="outside", showgrid=False))
    fig.layout["yaxis" + sfx] = dict(axis_common, domain=[1 - BOTTOM / H, 1 - TOP / H], range=Y_RANGE, anchor="x" + sfx,
                                     tickvals=y_major, minor=dict(tickvals=y_minor, ticklen=3, tickwidth=1, tickcolor="black", ticks="outside", showgrid=False))
    xa, ya = p["xa"], p["ya"]
    shapes.append(dict(type="line", xref=xa, yref=ya, x0=GATE_X, x1=GATE_X, y0=Y_RANGE[0], y1=Y_RANGE[1], line=dict(color="black", width=2.2)))
    shapes.append(dict(type="line", xref=xa, yref=ya, x0=X_RANGE[0], x1=X_RANGE[1], y0=GATE_Y, y1=GATE_Y, line=dict(color="black", width=2.2)))
    for txt, px, py, anchor in p["labels"]:
        note(txt, 13.6, xref="paper", yref="paper", x=px / W, y=1 - py / H, xanchor=anchor)
    # decade labels: a base "10" and a full-size raised exponent
    note("0", 14.5, xref=xa, yref="paper", x=ZERO_X, y=1 - 298 / H)
    for u, e in x_decades:
        note("10", 14.5, xref=xa, yref="paper", x=u, xshift=-2, y=1 - 298 / H, xanchor="left")
        note(e, 14.5, xref=xa, yref="paper", x=u, xshift=11, y=1 - 288 / H, xanchor="left")
    note("0", 14.5, xref="paper", yref=ya, x=(p["left"] - 24.5) / W, y=ZERO_Y)
    for u, e in y_decades:
        note("10", 14.5, xref="paper", yref=ya, x=(p["left"] - 20.5) / W, y=u, yshift=-4.5, xanchor="right")
        note(e, 14.5, xref="paper", yref=ya, x=(p["left"] - 20.5) / W, y=u, yshift=5, xanchor="left")
    note("<b>CD4,APC</b>", 13.4, "#111", xref="paper", yref="paper", x=p["xt"] / W, y=1 - 328 / H)
    note(f"<b>{p['name']}</b>", 14.2, "#111", xref="paper", yref="paper", x=(p["xt"] + 3) / W, y=1 - 357 / H)
    note("<b>PE-98288(CD25/IL-2RA),PE-A</b>", 14, "#111", xref="paper", yref="paper", x=p["yt"] / W, y=1 - 150 / H, textangle=-90)

note("WWW.PTGLAB.COM", 27, "rgba(170,170,170,.33)", xref="paper", yref="paper", x=556.5 / W, y=1 - 60 / H)

fig.update_layout(width=W, height=H, margin=dict(l=0, r=0, t=0, b=0), paper_bgcolor="white", plot_bgcolor="white",
                  showlegend=False, shapes=shapes, annotations=annotations)
fig.write_html("out.html", post_script="document.body.style.margin='0';", config=dict(displayModeBar=False))
